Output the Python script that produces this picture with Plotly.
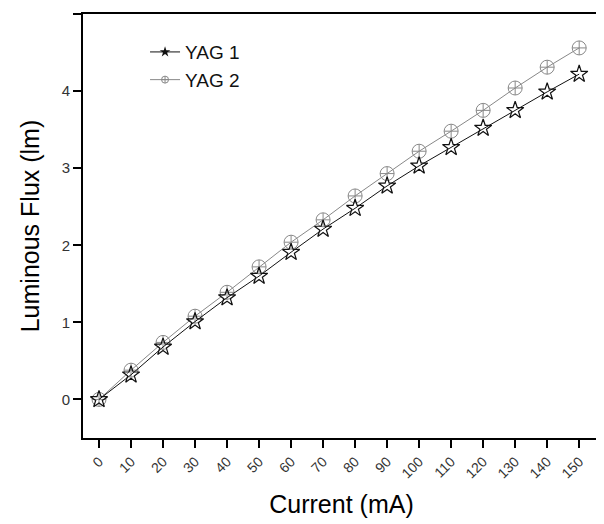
import plotly.graph_objects as go

current = [0, 10, 20, 30, 40, 50, 60, 70, 80, 90, 100, 110, 120, 130, 140, 150]
yag1 = [0, 0.32, 0.68, 1.01, 1.32, 1.60, 1.91, 2.21, 2.48, 2.77, 3.03, 3.27, 3.52, 3.75, 3.99, 4.22]
yag2 = [0, 0.38, 0.74, 1.08, 1.39, 1.72, 2.04, 2.33, 2.64, 2.93, 3.22, 3.48, 3.75, 4.04, 4.31, 4.56]
x_ticks = [0, 10, 20, 30, 40, 50, 60, 70, 80, 90, 100, 110, 120, 130, 140, 150]
y_ticks = [0, 1, 2, 3, 4, 5]

fig = go.Figure()
fig.add_trace(go.Scatter(
    x=current, y=yag2, name="YAG 2", mode="lines+markers", showlegend=False,
    line=dict(color="#888888", width=1),
    marker=dict(symbol="circle-cross-open", size=14, color="#888888", line=dict(width=1)),
))
fig.add_trace(go.Scatter(
    x=current, y=yag1, name="YAG 1", mode="lines+markers", showlegend=False,
    line=dict(color="#111111", width=1),
    marker=dict(symbol="star-open", size=13, color="#111111", line=dict(width=1.2)),
))
# legend entries with small symbols, as in the reference
fig.add_trace(go.Scatter(
    x=[None], y=[None], name="YAG 1", mode="lines+markers", legendgroup="a",
    line=dict(color="#111111", width=1),
    marker=dict(symbol="star", size=8, color="#111111"),
))
fig.add_trace(go.Scatter(
    x=[None], y=[None], name="YAG 2", mode="lines+markers", legendgroup="b",
    line=dict(color="#888888", width=1),
    marker=dict(symbol="circle-cross-open", size=7, color="#888888", line=dict(width=1)),
))

fig.update_layout(
    width=604, height=524,
    margin=dict(l=75, r=12, t=6, b=94),
    paper_bgcolor="white", plot_bgcolor="white",
    font=dict(family="Liberation Sans, Arial, sans-serif", color="#222222"),
    showlegend=True,
    legend=dict(x=0.12, y=0.955, xanchor="left", yanchor="top",
                font=dict(size=19, color="#111111"), bgcolor="rgba(0,0,0,0)",
                itemsizing="trace", tracegroupgap=0),
    xaxis=dict(
        range=[-5, 156.5], tickvals=x_ticks, ticktext=[str(v) for v in x_ticks],
        tickangle=-45, ticks="outside", ticklen=8, tickwidth=1.5, tickcolor="black",
        showline=True, linecolor="black", linewidth=2, mirror=True,
        showgrid=False, zeroline=False, automargin=False,
        tickfont=dict(size=14, color="#333333"),
        title=dict(text="Current (mA)", font=dict(size=25, color="black")),
    ),
    yaxis=dict(
        range=[-0.5, 5], tickvals=y_ticks, ticks="outside", ticklen=8, tickwidth=1.5,
        tickcolor="black",
        showline=True, linecolor="black", linewidth=2, mirror=True,
        showgrid=False, zeroline=False, automargin=False,
        tickfont=dict(size=15, color="#333333"),
        title=dict(text="Luminous Flux (lm)", font=dict(size=25, color="black")),
    ),
)

fig.write_html("out.html")
